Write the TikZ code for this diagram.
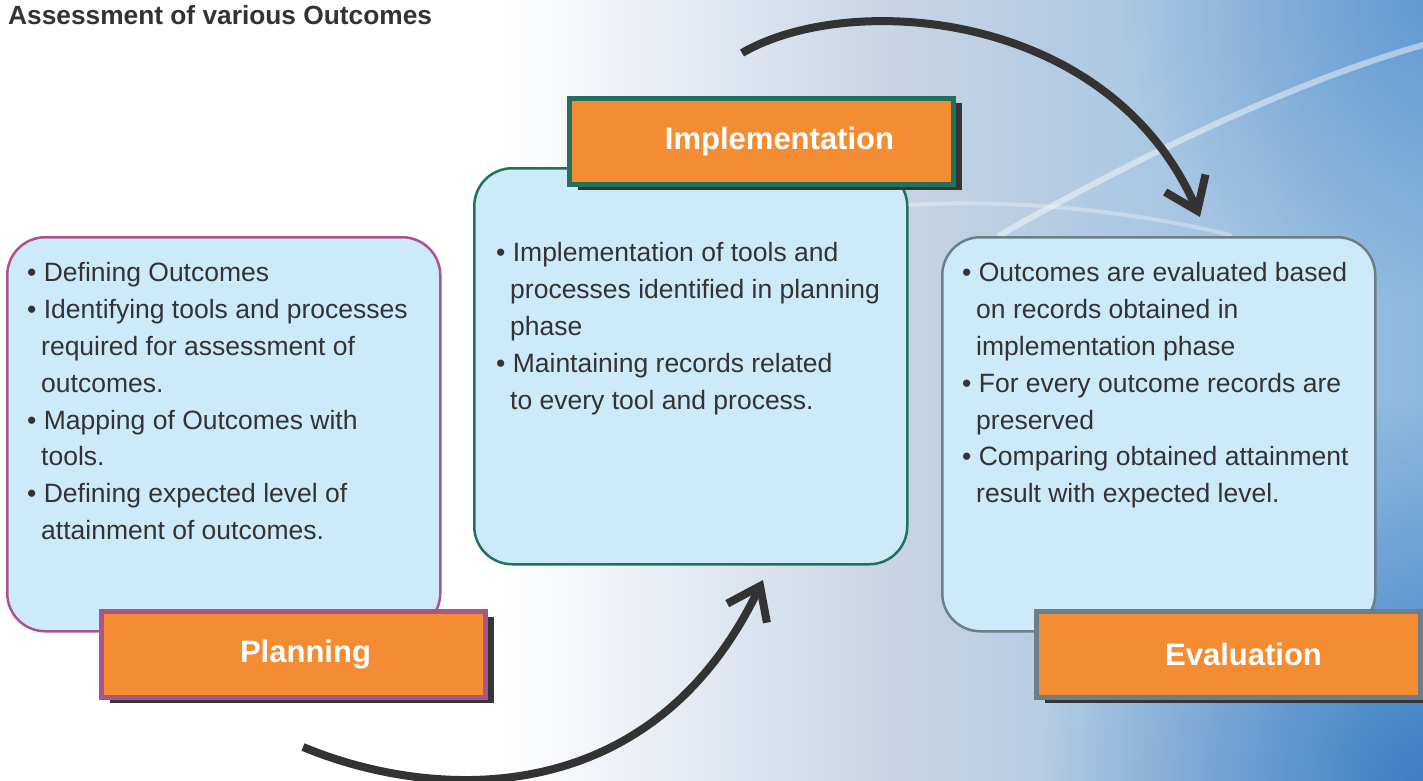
\documentclass[tikz,border=0pt]{standalone}
\usepackage{fontspec}
\setmainfont{Liberation Sans}
\usetikzlibrary{arrows.meta,shadows,fadings}
\definecolor{boxfill}{HTML}{CDEAFA}
\definecolor{labelorange}{HTML}{F48C33}
\definecolor{planborder}{HTML}{A8558C}
\definecolor{implborder}{HTML}{23705F}
\definecolor{evalborder}{HTML}{6C7F88}
\definecolor{shadowgray}{HTML}{353535}
\definecolor{textgray}{HTML}{333333}
\definecolor{bgmid}{HTML}{C6D4E5}
\definecolor{bgright}{HTML}{8CB9DF}
\definecolor{bgdeep}{HTML}{2F74C0}
\tikzfading[name=softglow, inner color=transparent!0, outer color=transparent!100]
\newcommand{\cont}{\hspace*{14pt}}
\begin{document}
\begin{tikzpicture}[x=1pt,y=-1pt,
  contentbox/.style={draw, line width=2.5pt, fill=boxfill, rounded corners=38pt,
    minimum width=433pt, anchor=north west, inner sep=0pt},
  labelbox/.style={draw, line width=5pt, fill=labelorange, minimum width=384pt,
    minimum height=86pt, anchor=north west, inner sep=0pt, text=white,
    font=\fontsize{31}{36}\selectfont\bfseries,
    drop shadow={shadow xshift=8pt, shadow yshift=-5pt, fill=shadowgray, opacity=1}},
  bodytext/.style={anchor=north west, inner sep=0pt, align=left, text=textgray,
    font=\fontsize{26.5}{36.9}\selectfont},
  bigarrow/.style={draw=textgray, line width=8pt,
    -{Straight Barb[length=30pt,width=44pt]}},
  streak/.style={white, line cap=round},
  glow/.style={fill=bgdeep, path fading=softglow}]
\useasboundingbox (0,0) rectangle (1423,781);
% background
\fill[white] (0,0) rectangle (1423,781);
\shade[left color=white, right color=bgmid] (500,0) rectangle (900,781);
\shade[left color=bgmid, right color=bgright] (900,0) rectangle (1423.5,781);
\fill[glow, fill opacity=0.85] (1423,781) circle (380);
\fill[glow, fill opacity=0.45] (1423,0) circle (300);
\draw[streak, opacity=0.45, line width=6pt] (1000,235) .. controls (1150,150) and (1300,80) .. (1423,45);
\draw[streak, opacity=0.3, line width=4pt] (910,205) .. controls (1030,198) and (1150,215) .. (1230,235);
% title
\node[anchor=base west, inner sep=0pt, text=textgray, font=\fontsize{26.3}{30}\selectfont\bfseries] (title) at (8,25) {Assessment of various Outcomes};
% content boxes
\node[contentbox, draw=planborder, minimum height=394pt] (pbox) at (6,236) {};
\node[contentbox, draw=implborder, minimum height=396pt] (ibox) at (473,167) {};
\node[contentbox, draw=evalborder, minimum height=394pt] (ebox) at (941,236) {};
% texts
\node[bodytext] (ptext) at (27,262) {• Defining Outcomes\\
• Identifying tools and processes\\
\cont required for assessment of\\
\cont outcomes.\\
• Mapping of Outcomes with\\
\cont tools.\\
• Defining expected level of\\
\cont attainment of outcomes.};
\node[bodytext] (itext) at (496,242) {• Implementation of tools and\\
\cont processes identified in planning\\
\cont phase\\
• Maintaining records related\\
\cont to every tool and process.};
\node[bodytext] (etext) at (962,262) {• Outcomes are evaluated based\\
\cont on records obtained in\\
\cont implementation phase\\
• For every outcome records are\\
\cont preserved\\
• Comparing obtained attainment\\
\cont result with expected level.};
% labels
\node[labelbox, draw=planborder, text width=384pt, align=center] (plabel) at (99,609) {\hspace*{24pt}Planning};
\node[labelbox, draw=implborder, text width=384pt, align=center] (ilabel) at (567,96) {\hspace*{36pt}Implementation};
\node[labelbox, draw=evalborder, text width=384pt, align=center] (elabel) at (1034,609) {\hspace*{30pt}Evaluation};
% arrows
\coordinate (a1s) at (303,747);
\coordinate (a1e) at (763,580);
\coordinate (a2s) at (742,53);
\coordinate (a2e) at (1200,217);
\draw[bigarrow] (a1s) .. controls (430,800) and (650,815) .. (a1e);
\draw[bigarrow] (a2s) .. controls (850,-10) and (1110,10) .. (a2e);
\end{tikzpicture}
\end{document}
